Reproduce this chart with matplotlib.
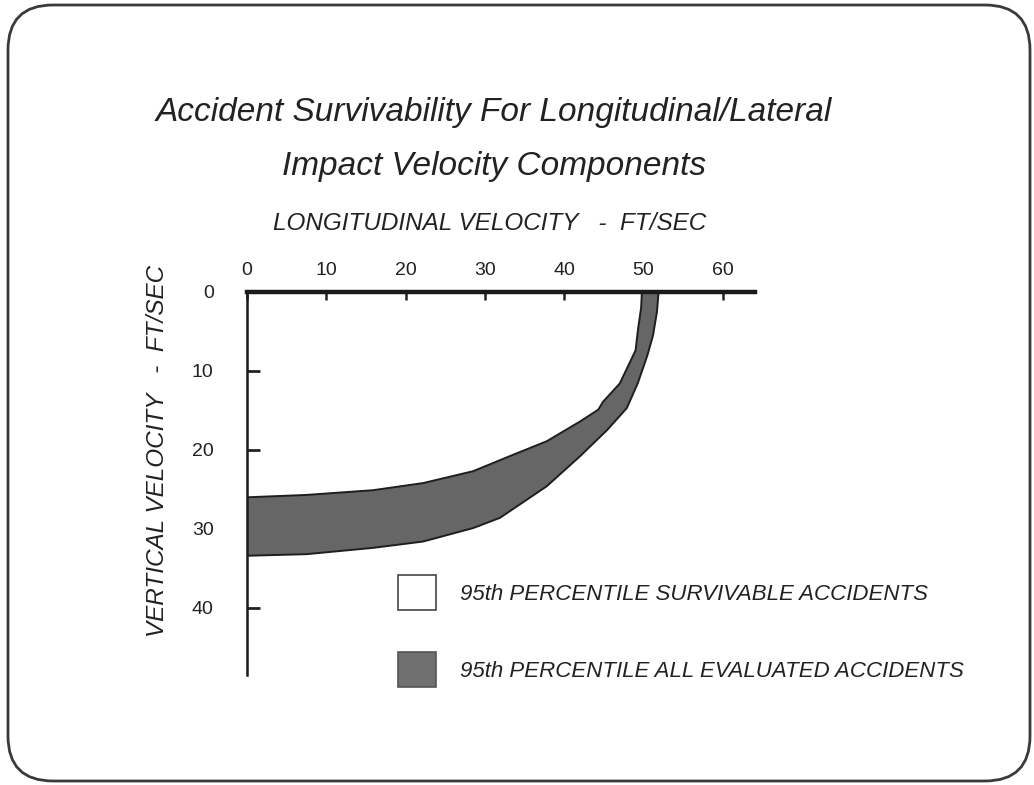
import numpy as np
import matplotlib.pyplot as plt
from matplotlib.patches import Patch, FancyBboxPatch
from matplotlib.transforms import IdentityTransform

plt.rcParams['font.family'] = ['Liberation Sans', 'DejaVu Sans']

# --- curves (ft/sec) ---
# inner edge = 95th percentile survivable accidents
surv_x = [0.0, 7.5, 15.9, 22.2, 28.5, 33.6, 37.8, 42.0, 44.3, 44.9, 47.0, 49.0, 49.3, 49.7, 49.8]
surv_y = [26.0, 25.7, 25.1, 24.2, 22.7, 20.6, 18.9, 16.4, 14.9, 13.9, 11.6, 7.4, 4.8, 2.0, 0.0]
# outer edge = 95th percentile all evaluated accidents
all_x = [0.0, 7.5, 15.9, 22.2, 28.5, 31.9, 37.8, 42.0, 45.4, 47.9, 49.3, 50.5, 51.2, 51.7, 51.9]
all_y = [33.4, 33.2, 32.4, 31.6, 29.9, 28.6, 24.6, 20.8, 17.5, 14.7, 11.5, 8.0, 5.5, 2.5, 0.0]

x_ticks = [0, 10, 20, 30, 40, 50, 60]
y_ticks = [0, 10, 20, 30, 40]

legend_labels = ["95th PERCENTILE SURVIVABLE ACCIDENTS",
                 "95th PERCENTILE ALL EVALUATED ACCIDENTS"]

fig = plt.figure(figsize=(10.34, 7.85), dpi=100)
ax = fig.add_axes([0.2389, 0.1401, 0.4908, 0.488])

band_x = np.concatenate([surv_x, all_x[::-1]])
band_y = np.concatenate([surv_y, all_y[::-1]])
ax.fill(band_x, band_y, facecolor="#666666", edgecolor="#1e1e1e", linewidth=1.4,
        joinstyle="round", zorder=2)

ax.set_xlim(0, 64)
ax.set_ylim(48.5, 0)
ax.xaxis.tick_top()
ax.set_xticks(x_ticks)
ax.set_yticks(y_ticks)
ax.tick_params(axis="x", direction="in", length=6, width=1.8, pad=9, labelsize=14, colors="#222222")
ax.tick_params(axis="y", direction="in", length=9, width=2.0, pad=24, labelsize=14, colors="#222222")
for s in ["right", "bottom"]:
    ax.spines[s].set_visible(False)
ax.spines["top"].set_linewidth(3.2)
ax.spines["left"].set_linewidth(1.8)
ax.spines["top"].set_color("#1a1a1a")
ax.spines["left"].set_color("#1a1a1a")

handles = [Patch(facecolor="white", edgecolor="#444444", linewidth=1.2),
           Patch(facecolor="#707070", edgecolor="#555555", linewidth=1.2)]
leg = ax.legend(handles, legend_labels, loc="upper left",
                bbox_to_anchor=(398 / 1034, 1 - 575 / 785), bbox_transform=fig.transFigure,
                frameon=False, borderpad=0, borderaxespad=0,
                handlelength=1.7, handleheight=2.05, handletextpad=1.1,
                labelspacing=1.9,
                prop={"style": "italic", "size": 16})
for t in leg.get_texts():
    t.set_color("#222222")

fig.text(494 / 1034, 1 - 112 / 785, "Accident Survivability For Longitudinal/Lateral",
         ha="center", va="center", fontsize=24, style="italic", color="#222222")
fig.text(494 / 1034, 1 - 166 / 785, "Impact Velocity Components",
         ha="center", va="center", fontsize=24, style="italic", color="#222222")
fig.text(490 / 1034, 1 - 224 / 785, "LONGITUDINAL VELOCITY   -  FT/SEC",
         ha="center", va="center", fontsize=17.5, style="italic", color="#222222")
fig.text(157 / 1034, 1 - 451 / 785, "VERTICAL VELOCITY   -  FT/SEC", rotation=90,
         ha="center", va="center", fontsize=17.5, style="italic", color="#222222")

# rounded slide border, in pixel coordinates
border = FancyBboxPatch((8, 4), 1022, 776, boxstyle="round,pad=0,rounding_size=45",
                        transform=IdentityTransform(), facecolor="none",
                        edgecolor="#3a3a3a", linewidth=2)
fig.add_artist(border)

fig.savefig("out.png", dpi=100)
